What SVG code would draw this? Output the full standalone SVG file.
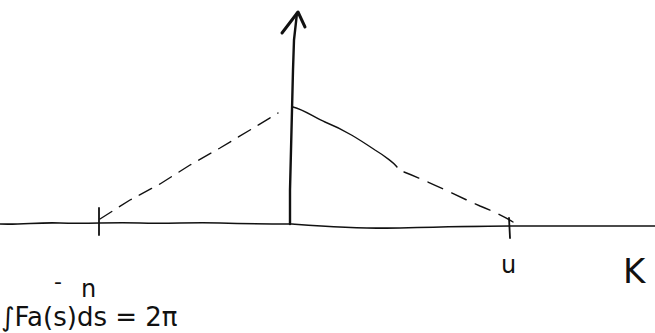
<svg xmlns="http://www.w3.org/2000/svg" width="655" height="333" viewBox="0 0 655 333">
<style>
.ax{fill:none;stroke:#111;stroke-linecap:round;stroke-linejoin:round}
.hw{font-family:"DejaVu Sans",sans-serif;fill:#111}
</style>
<rect width="655" height="333" fill="#fff"/>
<g id="axes">
<path class="ax" stroke-width="1.6" d="M0 224 C20 225 40 222 60 223 C90 224 110 222 140 223 C170 224 190 222 220 223 C250 224 270 224 292 224 C320 226 360 229 400 228 C440 227 480 226 520 226 L655 226"/>
<path class="ax" stroke-width="2.4" d="M290 224 L290 190 L291 150 L292 110 L293 70 L294 40 L297 13"/>
<path class="ax" stroke-width="3" d="M282 33 L298 12 L305 27"/>
<path class="ax" stroke-width="1.8" d="M99 208 L99 235 M509 218 L510 238"/>
</g>
<g id="curve">
<path class="ax" stroke-width="1.4" stroke-dasharray="14 9" d="M100 219 L130 200 L160 184 L190 165 L220 148 L250 130 L278 113"/>
<path class="ax" stroke-width="1.4" d="M293 107 C305 110 315 118 325 122 C345 130 360 140 375 150 C385 156 395 164 397 167"/>
<path class="ax" stroke-width="1.4" stroke-dasharray="16 10" d="M404 172 C430 182 455 195 480 206 C495 212 505 217 513 222"/>
</g>
<g id="labels">
<text class="hw" x="54" y="289" font-size="22">-</text>
<text class="hw" x="81" y="297" font-size="24">n</text>
<text class="hw" x="501" y="273" font-size="24">u</text>
<text class="hw" x="623" y="283" font-size="34">K</text>
<text class="hw" x="1" y="326" font-size="26">∫Fa(s)ds = 2π</text>
</g>
</svg>
